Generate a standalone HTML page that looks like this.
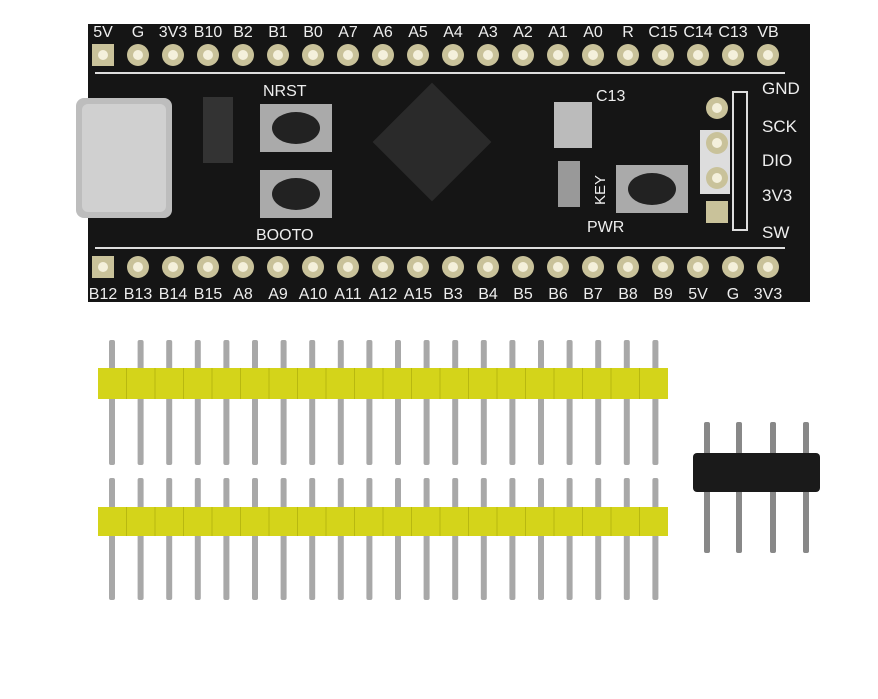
<!DOCTYPE html>
<html><head><meta charset="utf-8"><style>
body{margin:0;background:#fff;width:878px;height:699px;overflow:hidden}
svg{display:block}
text{font-family:"Liberation Sans",sans-serif;fill:#eee}
</style></head><body>
<svg id="s" width="878" height="699" viewBox="0 0 878 699" xmlns="http://www.w3.org/2000/svg">
<rect x="88" y="24" width="722" height="278" fill="#151515"/>
<line x1="95" y1="73" x2="785" y2="73" stroke="#ddd" stroke-width="2"/>
<line x1="95" y1="248" x2="785" y2="248" stroke="#ddd" stroke-width="2"/>
<g id="pads"></g>
<g font-size="16" text-anchor="middle">
<text x="103" y="37">5V</text><text x="138" y="37">G</text><text x="173" y="37">3V3</text><text x="208" y="37">B10</text><text x="243" y="37">B2</text><text x="278" y="37">B1</text><text x="313" y="37">B0</text><text x="348" y="37">A7</text><text x="383" y="37">A6</text><text x="418" y="37">A5</text><text x="453" y="37">A4</text><text x="488" y="37">A3</text><text x="523" y="37">A2</text><text x="558" y="37">A1</text><text x="593" y="37">A0</text><text x="628" y="37">R</text><text x="663" y="37">C15</text><text x="698" y="37">C14</text><text x="733" y="37">C13</text><text x="768" y="37">VB</text>
<text x="103" y="299">B12</text><text x="138" y="299">B13</text><text x="173" y="299">B14</text><text x="208" y="299">B15</text><text x="243" y="299">A8</text><text x="278" y="299">A9</text><text x="313" y="299">A10</text><text x="348" y="299">A11</text><text x="383" y="299">A12</text><text x="418" y="299">A15</text><text x="453" y="299">B3</text><text x="488" y="299">B4</text><text x="523" y="299">B5</text><text x="558" y="299">B6</text><text x="593" y="299">B7</text><text x="628" y="299">B8</text><text x="663" y="299">B9</text><text x="698" y="299">5V</text><text x="733" y="299">G</text><text x="768" y="299">3V3</text>
</g>
<rect x="76" y="98" width="96" height="120" rx="8" fill="#bdbdbd"/>
<rect x="82" y="104" width="84" height="108" rx="6" fill="#d0d0d0"/>
<rect x="260" y="104" width="72" height="48" fill="#aaa"/><ellipse cx="296" cy="128" rx="24" ry="16" fill="#222"/>
<rect x="260" y="170" width="72" height="48" fill="#aaa"/><ellipse cx="296" cy="194" rx="24" ry="16" fill="#222"/>
<rect x="616" y="165" width="72" height="48" fill="#aaa"/><ellipse cx="652" cy="189" rx="24" ry="16" fill="#222"/>
<text x="263" y="96" font-size="16">NRST</text>
<text x="256" y="240" font-size="16">BOOTO</text>
<text x="596" y="101" font-size="16">C13</text>
<text x="587" y="232" font-size="16">PWR</text>
<text x="605" y="205" font-size="15" transform="rotate(-90 605 205)">KEY</text>
<rect x="390" y="100" width="84" height="84" fill="#2a2a2a" transform="rotate(45 432 142)"/>
<rect x="554" y="102" width="38" height="46" fill="#bbb"/>
<rect x="558" y="161" width="22" height="46" fill="#999"/>
<rect x="203" y="97" width="30" height="66" fill="#333"/>
<rect x="700" y="130" width="30" height="64" fill="#ddd"/>
<rect x="733" y="92" width="14" height="138" fill="#111" stroke="#ddd" stroke-width="2"/>
<g font-size="17"><text x="762" y="94">GND</text><text x="762" y="132">SCK</text><text x="762" y="166">DIO</text><text x="762" y="201">3V3</text><text x="762" y="238">SW</text></g>
<g id="swd"></g>
<g id="hdr"></g>
</svg>
<script>
var ns="http://www.w3.org/2000/svg";
function el(p,t,a){var e=document.createElementNS(ns,t);for(var k in a)e.setAttribute(k,a[k]);document.getElementById(p).appendChild(e);return e;}
for(var i=0;i<20;i++){var x=103+i*35;
[55,267].forEach(function(y){
 if(i==0) el("pads","rect",{x:x-11,y:y-11,width:22,height:22,fill:"#c9c29a"});
 else el("pads","circle",{cx:x,cy:y,r:11,fill:"#c9c29a"});
 el("pads","circle",{cx:x,cy:y,r:5,fill:"#f4f0dc"});});}
[108,143,178].forEach(function(y){el("swd","circle",{cx:717,cy:y,r:11,fill:"#c9c29a"});el("swd","circle",{cx:717,cy:y,r:5,fill:"#f4f0dc"});});
el("swd","rect",{x:706,y:201,width:22,height:22,fill:"#c9c29a"});
for(var i=0;i<20;i++){var x=112+i*28.6;
 el("hdr","rect",{x:x-3,y:340,width:6,height:125,fill:"#a8a8a8",rx:2});
 el("hdr","rect",{x:x-3,y:478,width:6,height:122,fill:"#a8a8a8",rx:2});}
el("hdr","rect",{x:98,y:368,width:570,height:31,fill:"#d4d41a"});
el("hdr","rect",{x:98,y:507,width:570,height:29,fill:"#d4d41a"});
for(var i=1;i<20;i++){var x=98+i*28.5;
 el("hdr","line",{x1:x,y1:368,x2:x,y2:399,stroke:"#b8b810","stroke-width":1});
 el("hdr","line",{x1:x,y1:507,x2:x,y2:536,stroke:"#b8b810","stroke-width":1});}
[707,739,773,806].forEach(function(x){el("hdr","rect",{x:x-3,y:422,width:6,height:131,fill:"#888",rx:2});});
el("hdr","rect",{x:693,y:453,width:127,height:39,rx:4,fill:"#1a1a1a"});
</script>
</body></html>
